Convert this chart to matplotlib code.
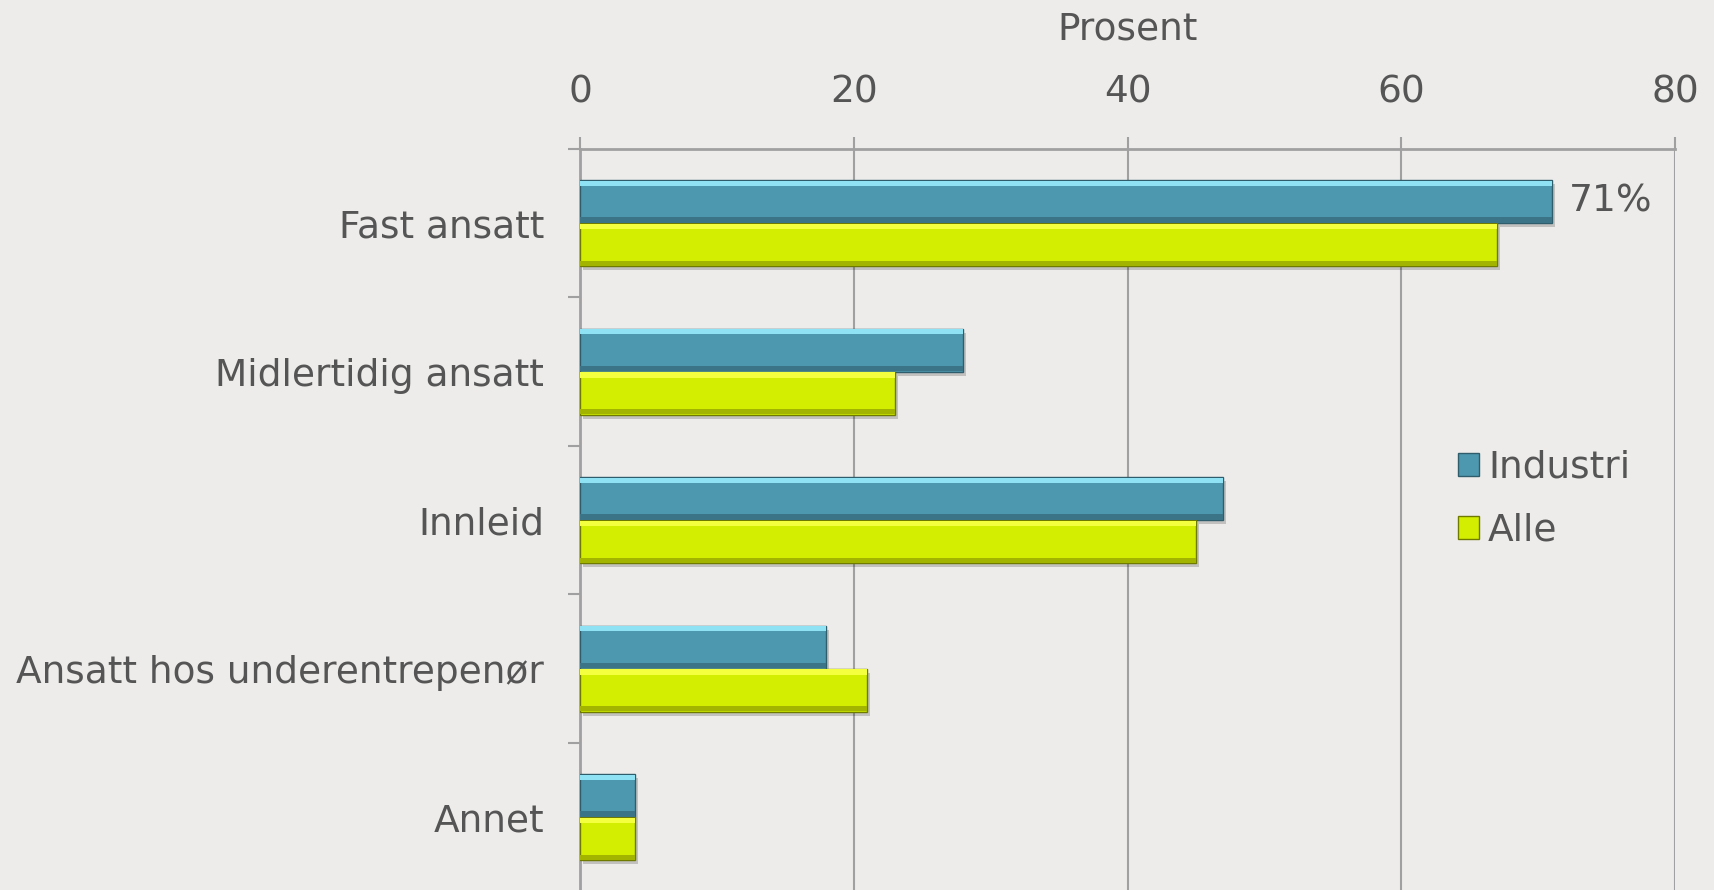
"""Horizontal grouped bar chart: employment type, Industri vs Alle."""

import matplotlib.pyplot as plt
import matplotlib.patheffects as pe
from matplotlib.patches import Patch
import numpy as np

categories = [
    "Fast ansatt",
    "Midlertidig ansatt",
    "Innleid",
    "Ansatt hos underentrepenør",
    "Annet",
]
industri = [71, 28, 47, 18, 4]
alle = [67, 23, 45, 21, 4]
xticks = [0, 20, 40, 60, 80]
value_label = "71%"

BG = "#EDECEA"
TEXT = "#555555"
GRID = "#A0A0A0"
FS = 27
COLORS = {
    "industri": {"face": "#4D98AF", "top": "#8EE2F4", "bottom": "#3B7487", "edge": "#2F5D6B"},
    "alle": {"face": "#D3EE00", "top": "#F4FF40", "bottom": "#A2B300", "edge": "#6F7A00"},
}

plt.rcParams.update({"font.family": "DejaVu Sans", "font.size": FS, "text.color": TEXT})

W, H = 1715, 890
fig = plt.figure(figsize=(W / 100, H / 100), dpi=100, facecolor=BG)
ax = fig.add_axes([580 / W, 0, 1095 / W, 741 / H], facecolor=BG)

y = np.arange(len(categories))
bh = 0.29
offsets = {"industri": -bh / 2, "alle": bh / 2}
shadow = [pe.SimplePatchShadow(offset=(2, -3), shadow_rgbFace="#000000", alpha=0.18), pe.Normal()]

for key, vals in (("industri", industri), ("alle", alle)):
    c = COLORS[key]
    yc = y + offsets[key]
    bars = ax.barh(yc, vals, height=bh, color=c["face"], edgecolor=c["edge"], linewidth=1.0, zorder=3)
    for b in bars:
        b.set_path_effects(shadow)
    # bevel: light strip on top, darker strip at bottom
    strip = 0.035
    ax.barh(yc - bh / 2 + strip / 2 + 0.004, vals, height=strip, color=c["top"], linewidth=0, zorder=4)
    ax.barh(yc + bh / 2 - strip / 2 - 0.004, vals, height=strip, color=c["bottom"], linewidth=0, zorder=4)

ax.set_xlim(0, 80)
ax.set_ylim(4.49, -0.5)

ax.xaxis.tick_top()
ax.set_xticks(xticks)
ax.tick_params(axis="x", which="major", length=9, width=1.5, color=GRID, pad=19,
               labelsize=FS, labelcolor=TEXT)
ax.set_xlabel("Prosent", fontsize=FS, color=TEXT)
ax.xaxis.set_label_position("top")
ax.xaxis.set_label_coords(0.5, (H - 30) / 741)
ax.xaxis.label.set_va("center")

ax.set_yticks(y)
ax.set_yticklabels(categories)
ax.set_yticks(np.arange(len(categories)) - 0.5, minor=True)
ax.tick_params(axis="y", which="major", length=0, pad=26, labelsize=FS, labelcolor=TEXT)
ax.tick_params(axis="y", which="minor", length=9, width=1.5, color=GRID)

ax.grid(axis="x", color=GRID, linewidth=1.5, zorder=1)
ax.set_axisbelow(True)
for side in ("right", "bottom"):
    ax.spines[side].set_visible(False)
for side in ("left", "top"):
    ax.spines[side].set_color(GRID)
    ax.spines[side].set_linewidth(2)

ax.annotate(value_label, xy=(industri[0], y[0] + offsets["industri"]), xytext=(12, 0),
            textcoords="offset points", va="center", ha="left", fontsize=FS, color=TEXT)

handles = [
    Patch(facecolor=COLORS["industri"]["face"], edgecolor=COLORS["industri"]["edge"], label="Industri"),
    Patch(facecolor=COLORS["alle"]["face"], edgecolor=COLORS["alle"]["edge"], label="Alle"),
]
fig.legend(handles=handles, loc="center left", bbox_to_anchor=(1458 / W, (H - 499) / H),
           frameon=False, fontsize=FS, handlelength=0.55, handleheight=0.55,
           handletextpad=0.25, labelspacing=0.72, borderpad=0, borderaxespad=0,
           labelcolor=TEXT)

fig.savefig("out.png", dpi=100, facecolor=BG)
